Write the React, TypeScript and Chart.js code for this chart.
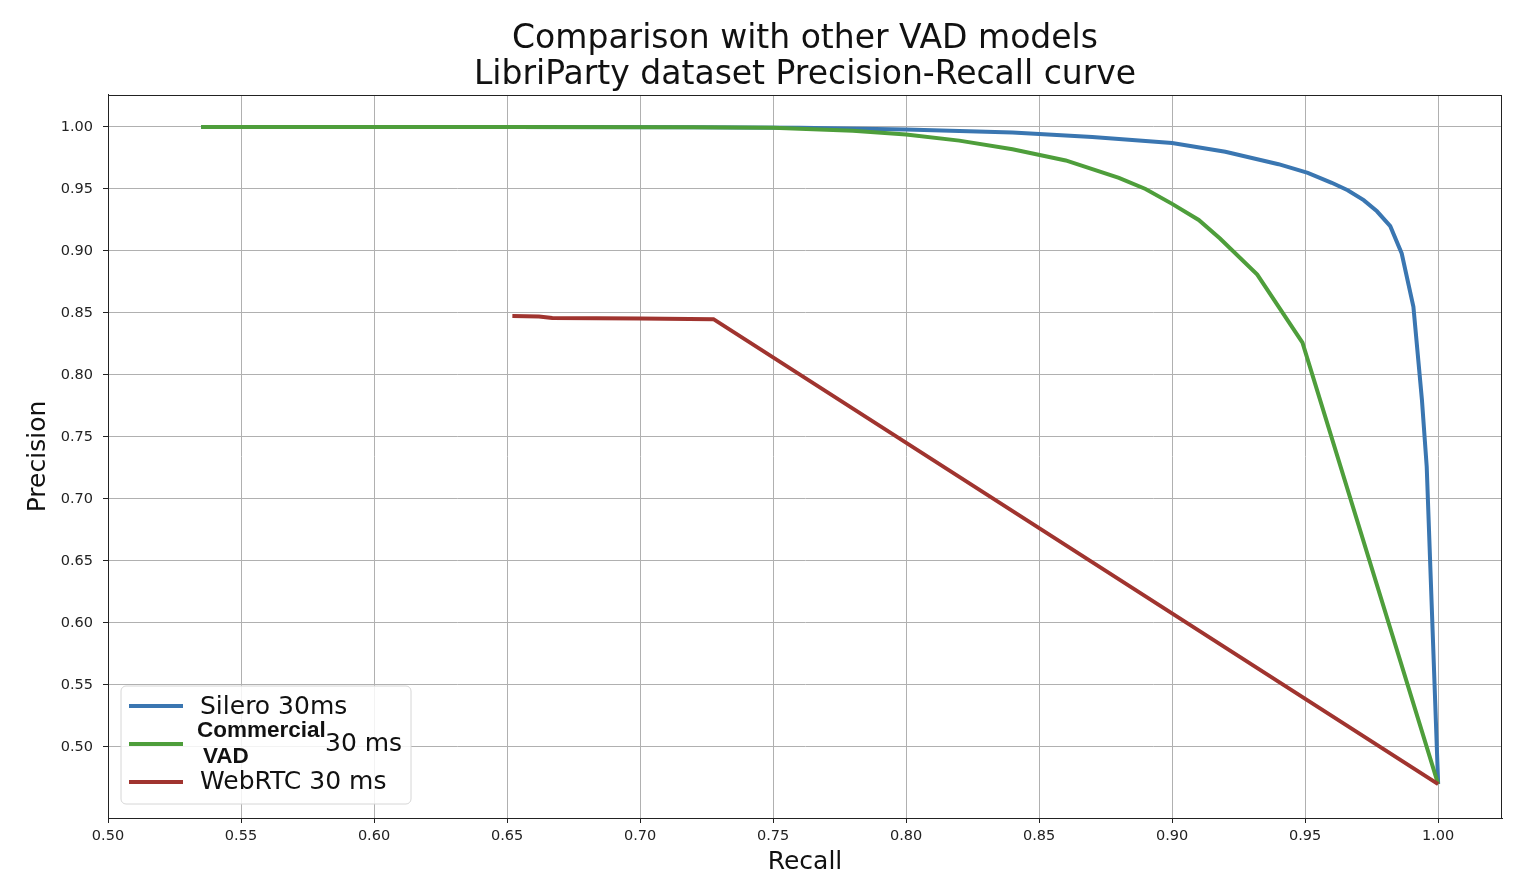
import React, { useEffect, useRef } from "react";
import { Chart, registerables } from "chart.js";

Chart.register(...registerables);

const titleLines = ["Comparison with other VAD models", "LibriParty dataset Precision-Recall curve"];
const xTicks = [0.5, 0.55, 0.6, 0.65, 0.7, 0.75, 0.8, 0.85, 0.9, 0.95, 1.0];
const yTicks = [0.5, 0.55, 0.6, 0.65, 0.7, 0.75, 0.8, 0.85, 0.9, 0.95, 1.0];

const sileroRecall = [0.535, 0.65, 0.72, 0.76, 0.8, 0.84, 0.87, 0.9, 0.92, 0.94, 0.951, 0.96, 0.966, 0.972, 0.977, 0.982, 0.9863, 0.9907, 0.9939, 0.9957, 1.0];
const sileroPrecision = [1.0, 1.0, 0.9998, 0.9993, 0.998, 0.9955, 0.992, 0.987, 0.98, 0.97, 0.963, 0.955, 0.949, 0.941, 0.932, 0.92, 0.898, 0.855, 0.78, 0.726, 0.47];

const commercialRecall = [0.535, 0.65, 0.72, 0.75, 0.78, 0.8, 0.82, 0.84, 0.86, 0.87, 0.88, 0.89, 0.9, 0.91, 0.918, 0.932, 0.949, 1.0];
const commercialPrecision = [1.0, 1.0, 0.9998, 0.9993, 0.997, 0.994, 0.989, 0.982, 0.973, 0.966, 0.959, 0.95, 0.938, 0.925, 0.91, 0.881, 0.826, 0.47];

const webrtcRecall = [0.652, 0.662, 0.667, 0.7, 0.7276, 1.0];
const webrtcPrecision = [0.8475, 0.8472, 0.846, 0.8455, 0.845, 0.47];

const BLUE = "#3a76b1";
const GREEN = "#4e9e3b";
const RED = "#a0342f";
const FONT = "'DejaVu Sans', sans-serif";

const toPoints = (xs: number[], ys: number[]) => xs.map((x, i) => ({ x, y: ys[i] }));

const framePlugin = {
  id: "frame",
  afterDraw(chart: any) {
    const { ctx, chartArea } = chart;
    ctx.save();
    ctx.strokeStyle = "#222";
    ctx.lineWidth = 1;
    ctx.strokeRect(chartArea.left + 0.5, chartArea.top + 0.5, chartArea.right - chartArea.left - 1, chartArea.bottom - chartArea.top);
    // legend
    const lx = 121, ly = 686, lw = 290, lh = 118, r = 5;
    ctx.beginPath();
    ctx.moveTo(lx + r, ly);
    ctx.arcTo(lx + lw, ly, lx + lw, ly + lh, r);
    ctx.arcTo(lx + lw, ly + lh, lx, ly + lh, r);
    ctx.arcTo(lx, ly + lh, lx, ly, r);
    ctx.arcTo(lx, ly, lx + lw, ly, r);
    ctx.closePath();
    ctx.fillStyle = "rgba(255,255,255,0.85)";
    ctx.fill();
    ctx.strokeStyle = "#d6d6d6";
    ctx.stroke();
    const drawLine = (y: number, c: string) => {
      ctx.beginPath();
      ctx.moveTo(129, y);
      ctx.lineTo(183, y);
      ctx.strokeStyle = c;
      ctx.lineWidth = 4;
      ctx.stroke();
    };
    drawLine(706, BLUE);
    drawLine(744, GREEN);
    drawLine(782, RED);
    ctx.fillStyle = "#111";
    ctx.textBaseline = "middle";
    ctx.textAlign = "left";
    ctx.font = `25px ${FONT}`;
    ctx.fillText("Silero 30ms", 200, 707);
    ctx.fillText("30 ms", 325, 744);
    ctx.fillText("WebRTC 30 ms", 200, 782);
    ctx.font = `bold 22.5px 'Liberation Sans', Arial, sans-serif`;
    ctx.fillText("Commercial", 197, 731);
    ctx.fillText("VAD", 203, 757);
    ctx.restore();
  },
};

export default function App() {
  const ref = useRef<HTMLCanvasElement>(null);
  useEffect(() => {
    if (!ref.current) return;
    const lineDs = (label: string, xs: number[], ys: number[], color: string, order: number) => ({
      label,
      data: toPoints(xs, ys),
      borderColor: color,
      backgroundColor: color,
      borderWidth: 4,
      pointRadius: 0,
      showLine: true,
      tension: 0,
      order,
    });
    const chart = new Chart(ref.current, {
      type: "scatter",
      data: {
        datasets: [
          lineDs("Silero 30ms", sileroRecall, sileroPrecision, BLUE, 3),
          lineDs("Commercial VAD 30 ms", commercialRecall, commercialPrecision, GREEN, 2),
          lineDs("WebRTC 30 ms", webrtcRecall, webrtcPrecision, RED, 1),
        ],
      },
      options: {
        responsive: false,
        animation: false,
        layout: { padding: { top: 0, right: 26, left: 0, bottom: 0 } },
        plugins: {
          legend: { display: false },
          tooltip: { enabled: false },
          title: {
            display: true,
            fullSize: false,
            text: titleLines,
            color: "#111",
            font: { family: FONT, size: 33, weight: "normal", lineHeight: 1.0909 },
            padding: { top: 21, bottom: 2 },
          },
        },
        scales: {
          x: {
            type: "linear",
            min: 0.5,
            max: 1.024,
            afterBuildTicks: (s: any) => { s.ticks = xTicks.map((v) => ({ value: v })); },
            afterFit: (s: any) => { s.height = 78; },
            ticks: {
              color: "#222",
              font: { family: FONT, size: 14.5 },
              padding: 5,
              maxRotation: 0,
              callback: (v: any) => Number(v).toFixed(2),
            },
            grid: { color: "#b0b0b0", lineWidth: 1, tickColor: "#222", tickLength: 5 },
            border: { color: "#222", width: 1 },
            title: {
              display: true,
              text: "Recall",
              color: "#111",
              font: { family: FONT, size: 25 },
              padding: { top: 0, bottom: 19 },
            },
          },
          y: {
            type: "linear",
            min: 0.4427,
            max: 1.0258,
            afterBuildTicks: (s: any) => { s.ticks = yTicks.map((v) => ({ value: v })); },
            afterFit: (s: any) => { s.width = 108; },
            ticks: {
              color: "#222",
              font: { family: FONT, size: 14.5 },
              padding: 10,
              callback: (v: any) => Number(v).toFixed(2),
            },
            grid: { color: "#b0b0b0", lineWidth: 1, tickColor: "#222", tickLength: 5 },
            border: { color: "#222", width: 1 },
            title: {
              display: true,
              text: "Precision",
              color: "#111",
              font: { family: FONT, size: 25 },
              padding: { top: 23, bottom: 0 },
            },
          },
        },
      },
      plugins: [framePlugin],
    } as any);
    return () => chart.destroy();
  }, []);
  return (
    <div style={{ position: "absolute", left: 0, top: 0, width: 1528, height: 896, background: "#fff" }}>
      <canvas ref={ref} width={1528} height={896} />
    </div>
  );
}
